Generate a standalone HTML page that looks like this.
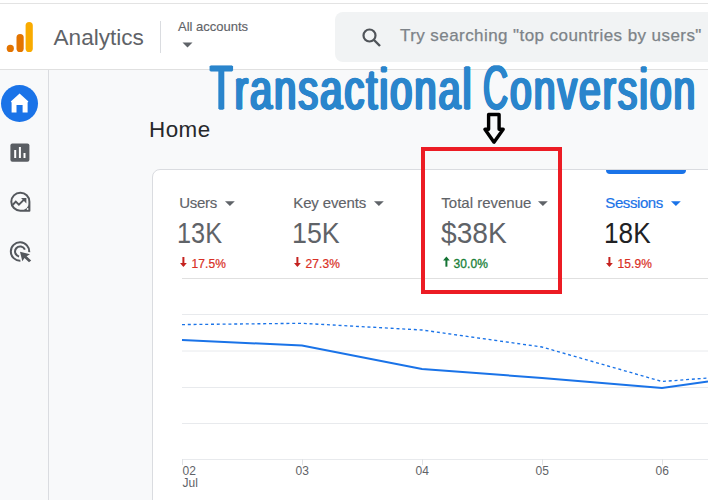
<!DOCTYPE html>
<html><head><meta charset="utf-8">
<style>
*{margin:0;padding:0;box-sizing:border-box}
html,body{width:708px;height:500px;overflow:hidden;background:#f8f9fa;font-family:"Liberation Sans",sans-serif;}
#root{position:relative;width:708px;height:500px;overflow:hidden;background:#f8f9fa}
.abs{position:absolute;white-space:nowrap;line-height:1}
#topline{position:absolute;left:0;top:0;width:708px;height:3px;background:#fff}
#topline2{position:absolute;left:0;top:3px;width:708px;height:1px;background:#e3e3e3}
#header{position:absolute;left:0;top:4px;width:708px;height:66px;background:#fff;border-bottom:1px solid #e0e0e0}
#side{position:absolute;left:0;top:70px;width:49px;height:430px;background:#f8f9fa;border-right:1px solid #dadce0}
#search{position:absolute;left:335px;top:12px;width:400px;height:50px;background:#f1f3f4;border-radius:8px}
#card{position:absolute;left:152px;top:169px;width:600px;height:360px;background:#fff;border:1px solid #dadce0;border-radius:8px}
.ttl{clip-path:inset(8.6px -10px -10px -10px);font-size:57.4px;line-height:62.2px !important;height:62.2px;color:#2a85cc;transform-origin:0 0;-webkit-text-stroke:1.3px #2a85cc;letter-spacing:2.9px;text-shadow:-1px 0 0 #2a85cc,1px 0 0 #2a85cc,-1.9px 0 0 #2a85cc,1.9px 0 0 #2a85cc}
.ttl b{font-weight:normal;font-size:62.2px;display:inline-block;transform-origin:0 0}
.lbl{font-size:15px;-webkit-text-stroke:0.15px #5f6368}
.num{font-size:29px;transform-origin:0 0}
.pct{font-size:12px;letter-spacing:0.15px}
</style></head><body>
<div id="root">
<div id="topline"></div><div id="topline2"></div>
<div id="header"></div>
<div id="search"></div>
<div id="side"></div>
<div id="card"></div>

<!-- logo -->
<svg class="abs" style="left:0;top:0" width="60" height="70" viewBox="0 0 60 70">
<circle cx="10.3" cy="48.4" r="3.6" fill="#e37400"/>
<rect x="16.5" y="34" width="7.2" height="18" rx="3.6" fill="#e37400"/>
<rect x="25.6" y="22" width="7.2" height="30" rx="3.6" fill="#f9ab00"/>
</svg>
<div class="abs" id="t_analytics" style="left:53.5px;top:27px;font-size:22.6px;color:#5f6368">Analytics</div>
<div class="abs" style="left:160px;top:21px;width:1px;height:32px;background:#dadce0"></div>
<div class="abs" id="t_allacc" style="left:178px;top:20.1px;-webkit-text-stroke:0.15px #5f6368;font-size:13px;color:#5f6368">All accounts</div>
<svg class="abs" style="left:182px;top:42px" width="12" height="6"><path d="M0.5 0.5 L10.5 0.5 L5.5 5.5Z" fill="#5f6368"/></svg>

<!-- search -->
<svg class="abs" style="left:360px;top:26px" width="24" height="24" viewBox="0 0 24 24"><circle cx="9.5" cy="9.5" r="6" fill="none" stroke="#505459" stroke-width="2.2"/><path d="M14 14 L20 20" stroke="#505459" stroke-width="2.4" stroke-linecap="butt"/></svg>
<div class="abs" id="t_search" style="left:400px;top:27.4px;font-size:17px;color:#7d8388;letter-spacing:0.43px;-webkit-text-stroke:0.25px #7d8388">Try searching "top countries by users"</div>

<!-- title overlay -->
<div class="abs ttl" id="t_title1" style="left:209.8px;top:56.6px;transform:scaleX(0.6937)"><b style="transform:scaleX(0.86);margin-right:-5.3px">T</b>ransactional</div>
<div class="abs ttl" id="t_title2" style="left:482.7px;top:56.6px;transform:scaleX(0.681)"><b style="transform:scaleX(0.82);margin-right:-8.1px">C</b>onversion</div>

<div class="abs" id="t_home" style="left:149px;top:118.8px;font-size:22.4px;color:#26282b;letter-spacing:0.5px">Home</div>

<!-- sidebar icons -->
<svg class="abs" style="left:0;top:80px" width="48" height="200" viewBox="0 0 48 200">
<circle cx="19.5" cy="23.5" r="18.5" fill="#1a73e8"/>
<path d="M19.6 13.6 L10.8 21.6 L11.6 22.4 V32.4 H16.5 V25 H22.6 V32.4 H27.6 V22.4 L28.4 21.6 Z" fill="#fff"/>
<rect x="10.4" y="63.4" width="19" height="18.4" rx="2" fill="#5a5e63"/>
<rect x="14.2" y="70" width="2" height="8" fill="#fff"/><rect x="18.9" y="67" width="2" height="11" fill="#fff"/><rect x="23.5" y="73" width="2" height="5" fill="#fff"/>
<g fill="none" stroke="#54585d" stroke-width="2">
<path d="M20.3 112.7 A9 9 0 1 0 20.3 130.7 H29.4 V121.7 A9 9 0 0 0 20.3 112.7Z" stroke-linejoin="round"/>
<path d="M12.6 125 L15.8 121.6 L18.9 124.6 L24 119.6" stroke-width="1.9"/>
</g>
<path d="M29.4 121.7 A9 9 0 0 1 20.3 130.7 H29.4Z" fill="#54585d"/>
<circle cx="27.6" cy="129" r="0.9" fill="#f8f9fa"/>
<path d="M21 118 H26.4 V123.4Z" fill="#54585d"/>
<g fill="none" stroke="#54585d" stroke-width="2">
<path d="M29.2 172.2 A9.2 9.2 0 1 0 20.4 180.7"/>
<path d="M24.9 169.6 A5.1 5.1 0 1 0 19.1 176.5"/>
</g>
<path d="M20 171.7 L30 174.2 L26.6 176.2 L31.2 180.4 L29 182.3 L24.5 178 L22.3 181.3Z" fill="#54585d"/>
</svg>

<!-- metrics -->
<div class="abs lbl" style="left:179.3px;top:195.4px;color:#5f6368;letter-spacing:-0.3px">Users</div>
<svg class="abs" style="left:224.6px;top:201px" width="11" height="6"><path d="M0 0.2 H9.8 L4.9 5Z" fill="#5f6368"/></svg>
<div class="abs num" style="left:176.8px;top:219.3px;color:#5f6368;transform:scaleX(0.872)">13K</div>
<svg class="abs" style="left:179.6px;top:257.1px" width="8" height="11"><path d="M3.4 0 V8.4" stroke="#c5221f" stroke-width="2" fill="none"/><path d="M0 6 L3.4 10 L6.8 6Z" fill="#c5221f"/></svg>
<div class="abs pct" style="left:191.4px;top:257.8px;color:#d93025;-webkit-text-stroke:0.2px #d93025">17.5%</div>
<div class="abs lbl" style="left:293.3px;top:195.4px;color:#5f6368;letter-spacing:-0.15px">Key events</div>
<svg class="abs" style="left:374.2px;top:201px" width="11" height="6"><path d="M0 0.2 H9.8 L4.9 5Z" fill="#5f6368"/></svg>
<div class="abs num" style="left:291.8px;top:219.3px;color:#5f6368;transform:scaleX(0.925)">15K</div>
<svg class="abs" style="left:293.7px;top:257.1px" width="8" height="11"><path d="M3.4 0 V8.4" stroke="#c5221f" stroke-width="2" fill="none"/><path d="M0 6 L3.4 10 L6.8 6Z" fill="#c5221f"/></svg>
<div class="abs pct" style="left:305.4px;top:257.8px;color:#d93025;-webkit-text-stroke:0.2px #d93025">27.3%</div>
<div class="abs lbl" style="left:441.3px;top:195.4px;color:#5f6368;letter-spacing:0px">Total revenue</div>
<svg class="abs" style="left:538.4px;top:201px" width="11" height="6"><path d="M0 0.2 H9.8 L4.9 5Z" fill="#5f6368"/></svg>
<div class="abs num" style="left:441.2px;top:219.3px;color:#5f6368;transform:scaleX(0.972)">$38K</div>
<svg class="abs" style="left:442.8px;top:256.3px" width="8" height="11"><path d="M3.4 10.7 V2" stroke="#137333" stroke-width="2" fill="none"/><path d="M0 4.4 L3.4 0.6 L6.8 4.4Z" fill="#137333"/></svg>
<div class="abs pct" style="left:453.4px;top:257.8px;color:#188038;-webkit-text-stroke:0.3px #188038">30.0%</div>
<div class="abs lbl" style="left:605.3px;top:195.4px;color:#1a73e8;letter-spacing:-0.42px;-webkit-text-stroke:0.2px #1a73e8">Sessions</div>
<svg class="abs" style="left:670.9px;top:201px" width="11" height="6"><path d="M0 0.2 H9.8 L4.9 5Z" fill="#1a73e8"/></svg>
<div class="abs num" style="left:603.8px;top:219.3px;color:#202124;transform:scaleX(0.903)">18K</div>
<svg class="abs" style="left:605.9px;top:257.1px" width="8" height="11"><path d="M3.4 0 V8.4" stroke="#c5221f" stroke-width="2" fill="none"/><path d="M0 6 L3.4 10 L6.8 6Z" fill="#c5221f"/></svg>
<div class="abs pct" style="left:617.4px;top:257.8px;color:#d93025;-webkit-text-stroke:0.2px #d93025">15.9%</div>

<div class="abs" style="left:606.4px;top:170px;width:79.2px;height:4px;background:#1a73e8;border-radius:0 0 4px 4px"></div>
<div class="abs" style="left:182px;top:278px;width:530px;height:1px;background:#e0e0e0"></div>

<!-- red box -->
<div class="abs" style="left:421px;top:147px;width:141px;height:147px;border:4px solid #ec1c24"></div>
<svg class="abs" style="left:478px;top:108px" width="34" height="42" viewBox="478 108 34 42"><path d="M488.6 114.5 H499.1 V129.3 H503.2 L494 142.2 L484.9 129.3 H488.6 Z" fill="#f8f9fa" stroke="#000" stroke-width="3.4" stroke-linejoin="round"/></svg>

<!-- chart -->
<svg class="abs" style="left:150px;top:290px" width="558" height="210" viewBox="0 0 558 210">
<g stroke="#e8eaed" stroke-width="1"><path d="M32 24.5H558M32 61H558M32 97.5H558M32 133.5H558M32 169.5H558"/></g>
<path d="M32.5 169V175M152.5 169V175M272.5 169V175M392.5 169V175M512.5 169V175" stroke="#e0e2e5" stroke-width="1"/>
<path d="M32 50 L152 55.5 L272 79 L392 88 L512 98 L558 91.4" fill="none" stroke="#1a73e8" stroke-width="2"/>
<path d="M32 34.6 L152 33.3 L272 40 L392 57 L512 91.5 L558 88" fill="none" stroke="#1a73e8" stroke-width="1.35" stroke-dasharray="3 2.8"/>
</svg>
<div class="abs" style="left:182.6px;top:465.2px;font-size:12px;color:#5f6368">02</div>
<div class="abs" style="left:182.6px;top:477.2px;font-size:12px;color:#5f6368">Jul</div>
<div class="abs" style="left:295.6px;top:465.2px;font-size:12px;color:#5f6368">03</div>
<div class="abs" style="left:415.6px;top:465.2px;font-size:12px;color:#5f6368">04</div>
<div class="abs" style="left:535.6px;top:465.2px;font-size:12px;color:#5f6368">05</div>
<div class="abs" style="left:655.6px;top:465.2px;font-size:12px;color:#5f6368">06</div>
</div>
</body></html>
